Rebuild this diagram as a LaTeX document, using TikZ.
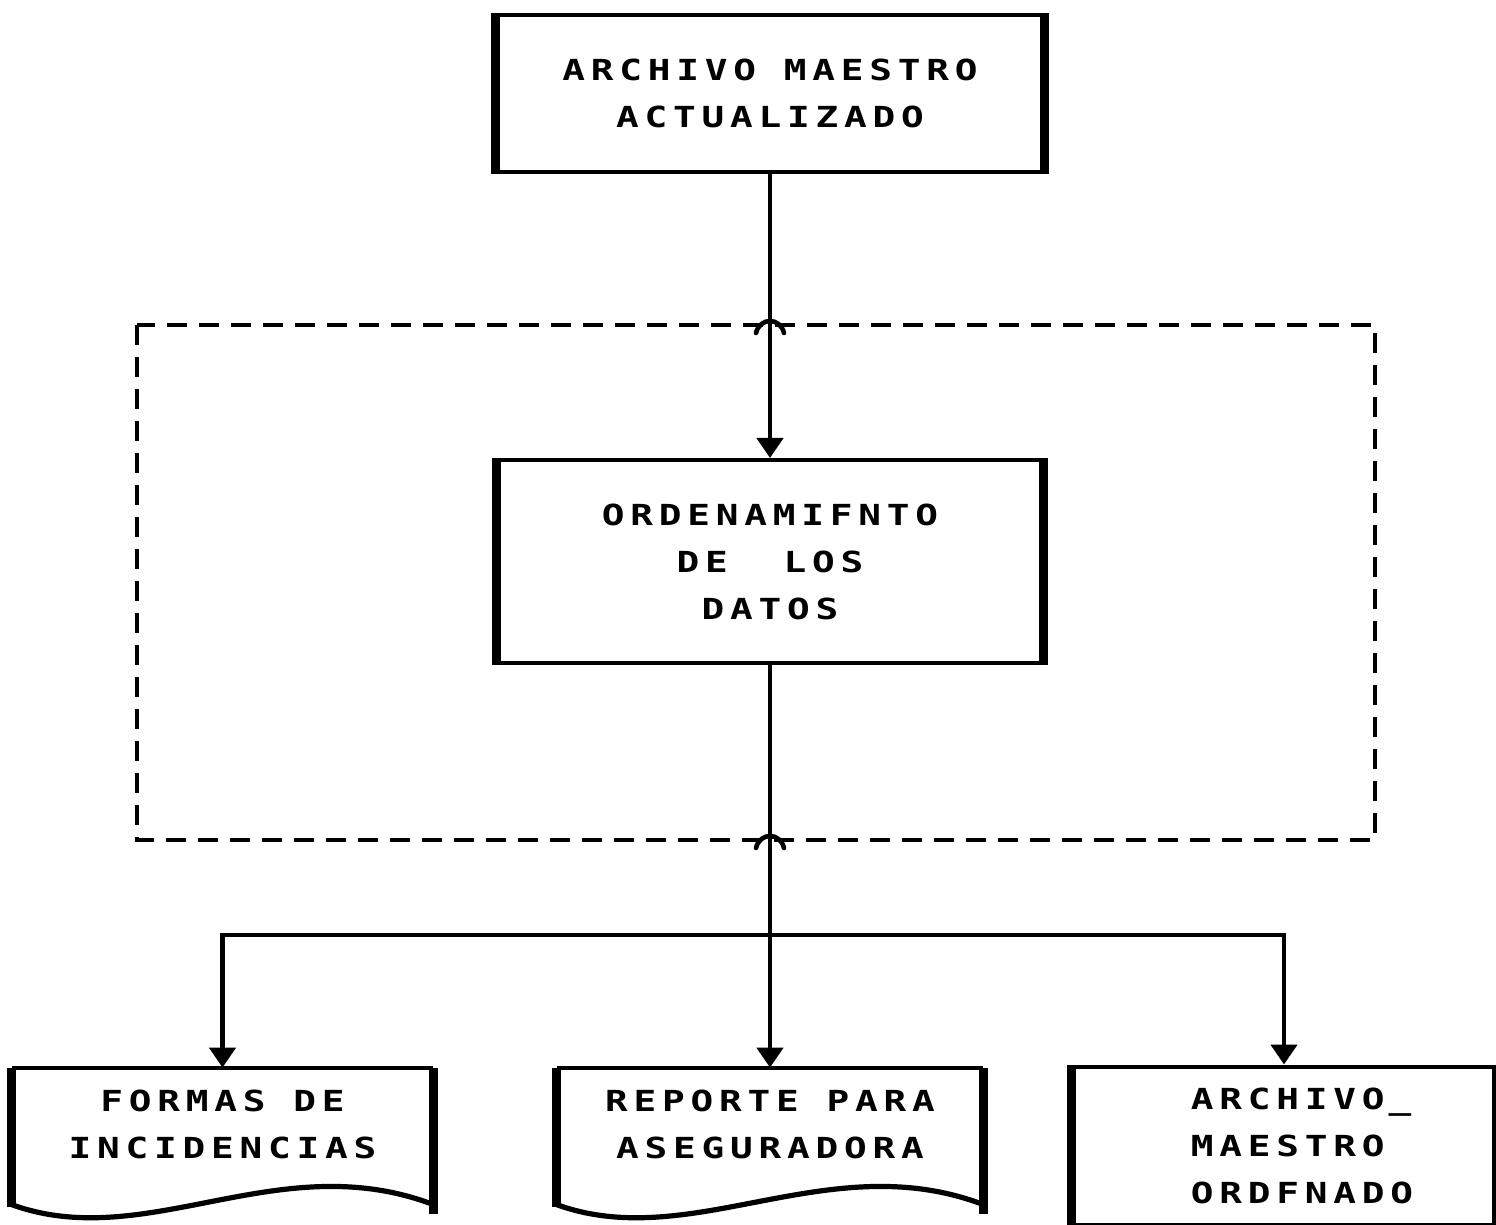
\documentclass[tikz,border=0pt]{standalone}
\usepackage{fontspec}
\newfontfamily\pixfont{DejaVu Sans Mono}[LetterSpace=20,FakeStretch=1.3]
\usetikzlibrary{arrows.meta,calc}
\newcommand{\lblfont}{\pixfont\bfseries\fontsize{14.5pt}{23.5pt}\selectfont\spaceskip 14pt\relax}
\newcommand{\ind}{\hspace*{18pt}}
\tikzset{
  lbl/.style={font=\lblfont, align=center, inner sep=0pt},
  procbox/.style={lbl, draw, line width=2pt},
  docbox/.style={lbl, draw=none},
  conn/.style={line width=2.3pt, -{Triangle[width=13pt,length=10pt]}},
  frame/.style={line width=2.2pt, dash pattern=on 10pt off 6pt},
  sideline/.style={line width=4.5pt},
  wave/.style={line width=2.6pt},
  hop/.style={line width=2.3pt, line cap=round}
}
\begin{document}
\begin{tikzpicture}[x=0.5pt,y=-0.5pt]
\useasboundingbox (0,0) rectangle (1496,1225);

% dashed frame
\draw[frame] (137,325) rectangle (1375,840);

% boxes
\node[procbox, minimum width=272.5pt, minimum height=78.5pt] (top) at (770,93.5)
  {ARCHIVO MAESTRO\\ACTUALIZADO};
\node[procbox, minimum width=271.5pt, minimum height=101.5pt] (mid) at (770,561.5)
  {ORDENAMIFNTO\\DE\ \ LOS\\DATOS};

\node[docbox, minimum width=210.5pt, minimum height=56pt] (doc1) at (222.5,1124)
  {FORMAS DE\\INCIDENCIAS};
\node[docbox, minimum width=213pt, minimum height=56pt] (doc2) at (770,1124)
  {REPORTE PARA\\ASEGURADORA};
\node[procbox, align=left, minimum width=210.5pt, minimum height=79pt] (doc3) at (1284,1145.5)
  {\ind ARCHIVO\hspace{2pt}\_\\\ind MAESTRO\\\ind ORDFNADO};

% thick vertical sides of the boxes
\foreach \b in {top,mid,doc3}{
  \draw[sideline] (\b.north west) -- (\b.south west);
  \draw[sideline] (\b.north east) -- (\b.south east);
}

% document outlines
\foreach \d in {doc1,doc2}{
  \draw[line width=2pt] (\d.north west) -- (\d.north east);
  \draw[sideline] (\d.north west) -- ++(0,139);
  \draw[sideline] (\d.north east) -- ++(0,146);
  \draw[wave] ($(\d.north west)+(0,137)$) .. controls ($(\d.north west)+(135,186)$) and ($(\d.north east)+(-155,78)$) .. ($(\d.north east)+(0,137)$);
}

% connectors
\draw[conn] (top) -- (mid);
\coordinate (split) at (770,935);
\draw[conn] (mid) -- (doc2);
\draw[conn] (split) -| (doc1);
\draw[conn] (split) -| (doc3);

% hops where connectors cross the dashed frame
\coordinate (hopA) at (770,325);
\coordinate (hopB) at (770,840);
\foreach \h in {hopA,hopB}{
  \draw[hop] ($(\h)+(-14,8)$) .. controls ($(\h)+(-10,-8)$) and ($(\h)+(10,-8)$) .. ($(\h)+(14,8)$);
}
\end{tikzpicture}
\end{document}
